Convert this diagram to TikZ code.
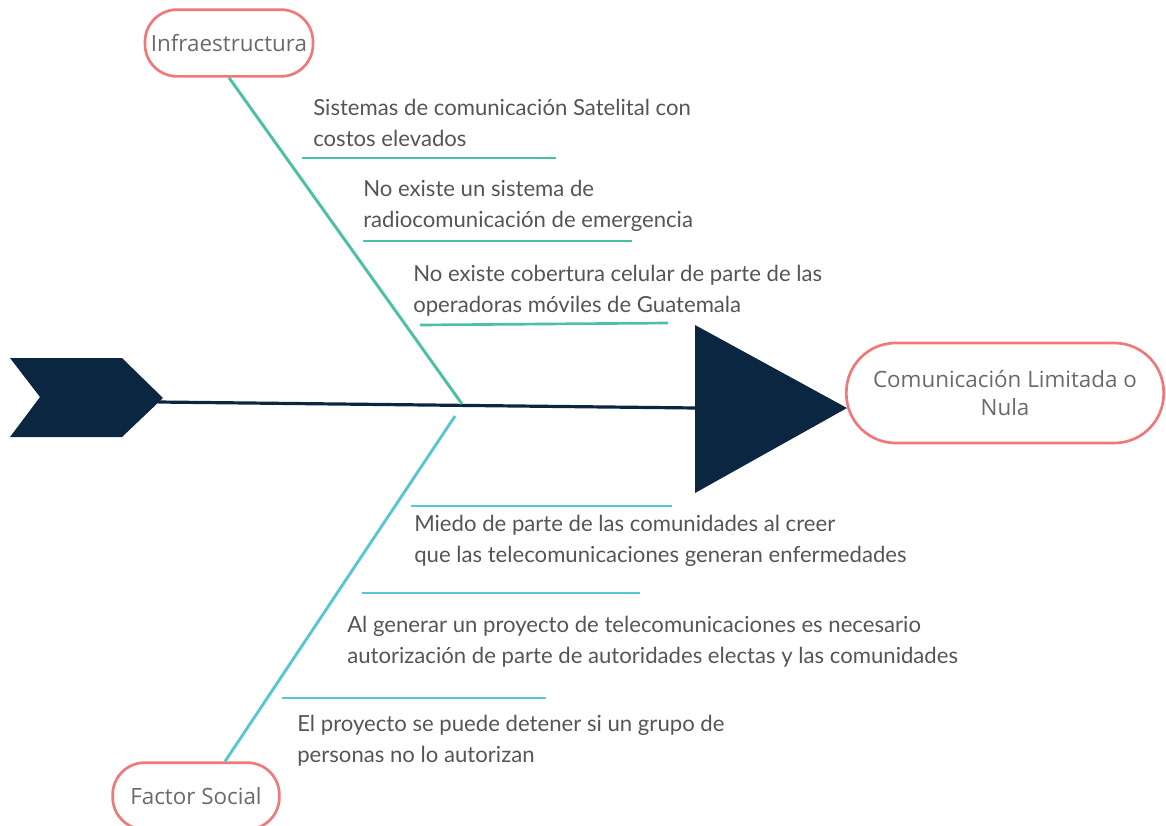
\documentclass[tikz,border=0pt]{standalone}
\usepackage{fontspec}
\setmainfont{Lato}
\newfontfamily\nodefont{Open Sans}
\definecolor{navy}{HTML}{0B2640}
\definecolor{pinkred}{HTML}{F07878}
\definecolor{tealA}{HTML}{4CBFA6}
\definecolor{tealB}{HTML}{5AC6D2}
\definecolor{txtgray}{HTML}{555555}
\definecolor{nodegray}{HTML}{6A6A6A}
\begin{document}
\begin{tikzpicture}[x=0.75pt,y=-0.75pt,
  pill/.style={draw=pinkred,line width=2pt,fill=white,rounded corners=24pt,
    font=\nodefont\fontsize{16.8}{21.5}\selectfont,text=nodegray,align=center,inner sep=0pt},
  cause/.style={anchor=west,align=left,inner sep=0pt,text=txtgray,
    font=\fontsize{16.6}{23.5}\selectfont},
  boneA/.style={draw=tealA,line width=2.2pt},
  boneB/.style={draw=tealB,line width=2.2pt},
  subA/.style={draw=tealA,line width=2pt},
  subB/.style={draw=tealB,line width=2pt}]
\useasboundingbox (0,0) rectangle (1166,825);
% spine shapes
\fill[navy] (10,358) -- (122,358) -- (163,398) -- (122,437) -- (10,437) -- (40,397) -- cycle;
\coordinate (chevtip) at (158,402);
\coordinate (triL) at (697,408);
\draw[navy,line width=2.4pt] (chevtip) -- (triL);
\fill[navy] (695,325) -- (847,408) -- (695,493) -- cycle;
% nodes
\node[pill,minimum width=126pt,minimum height=50pt] (infra) at (229,43) {Infraestructura};
\node[pill,minimum width=125pt,minimum height=50pt] (social) at (196,796) {Factor Social};
\node[pill,minimum width=238pt,minimum height=75pt,rounded corners=37pt] (result) at (1005,393) {Comunicación Limitada o\\Nula};
% junctions
\coordinate (jA) at (462,404);
\coordinate (jB) at (455,416);
\draw[boneA] (infra.south) -- (jA);
\draw[boneB] (jB) -- (social.50);
% upper sub-lines
\coordinate (a1) at (302,158); \coordinate (a1e) at (556,158);
\coordinate (a2) at (363,241); \coordinate (a2e) at (632,241);
\coordinate (a3) at (420,325); \coordinate (a3e) at (668,323);
\draw[subA] (a1) -- (a1e);
\draw[subA] (a2) -- (a2e);
\draw[subA] (a3) -- (a3e);
% lower sub-lines
\coordinate (b1) at (411,506); \coordinate (b1e) at (672,506);
\coordinate (b2) at (362,593); \coordinate (b2e) at (640,593);
\coordinate (b3) at (282,698); \coordinate (b3e) at (546,698);
\draw[subB] (b1) -- (b1e);
\draw[subB] (b2) -- (b2e);
\draw[subB] (b3) -- (b3e);
% texts
\node[cause] (t1) at (313,123) {Sistemas de comunicación Satelital con\\costos elevados};
\node[cause] (t2) at (363,206) {No existe un sistema de\\radiocomunicación de emergencia};
\node[cause] (t3) at (413,291) {No existe cobertura celular de parte de las\\operadoras móviles de Guatemala};
\node[cause] (t4) at (414,541) {Miedo de parte de las comunidades al creer\\que las telecomunicaciones generan enfermedades};
\node[cause] (t5) at (347,642) {Al generar un proyecto de telecomunicaciones es necesario\\autorización de parte de autoridades electas y las comunidades};
\node[cause] (t6) at (297,741) {El proyecto se puede detener si un grupo de\\personas no lo autorizan};
\end{tikzpicture}
\end{document}
